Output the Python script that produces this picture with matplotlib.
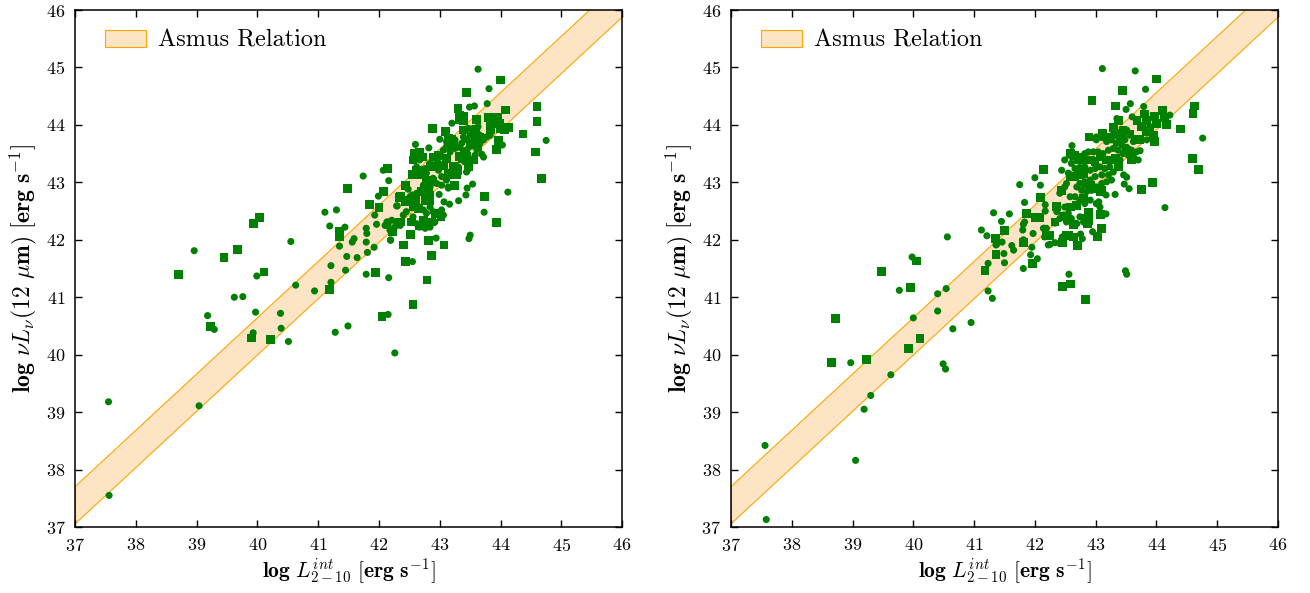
import numpy as np
import matplotlib
matplotlib.use("Agg")
import matplotlib.pyplot as plt

plt.rcParams['font.family'] = 'cmr10'
plt.rcParams['mathtext.fontset'] = 'cm'
plt.rcParams['axes.formatter.use_mathtext'] = True

# Asmus relation band: log L12 = slope*(log LX - 43) + intercept
asmus_slope = 0.98
asmus_low = 42.95
asmus_high = 43.60

# left panel
left_circ = np.array([
    (37.55, 39.18), (37.56, 37.55), (39.04, 39.11), (38.96, 41.81), (39.18, 40.68),
    (39.29, 40.44), (39.62, 41.00), (39.76, 41.01), (39.99, 41.37), (39.97, 40.74),
    (39.93, 40.38), (40.38, 40.72), (40.39, 40.46), (40.51, 40.23), (40.55, 41.97),
    (40.63, 41.21), (40.94, 41.11), (41.11, 42.48), (41.30, 42.52), (41.19, 42.24),
    (41.44, 42.22), (41.35, 41.89), (41.21, 41.55), (41.21, 41.26), (41.28, 40.39),
    (41.49, 40.50), (41.45, 41.47), (41.47, 41.71), (41.56, 41.96), (41.59, 42.02),
    (41.64, 41.69), (41.79, 42.20), (41.80, 42.11), (41.79, 41.96), (41.81, 41.78),
    (41.79, 41.40), (41.92, 41.87), (41.93, 42.43), (41.96, 42.27), (41.74, 43.11),
    (42.07, 43.21), (42.16, 43.03), (41.99, 42.76), (42.29, 42.59), (42.13, 42.31),
    (42.21, 42.34), (42.15, 42.25), (42.29, 42.27), (42.19, 42.00), (42.16, 41.34),
    (42.15, 40.70), (42.26, 40.03), (43.63, 44.97), (43.81, 44.63), (43.78, 44.37),
    (43.49, 44.31), (43.57, 44.33), (44.75, 43.73), (43.47, 43.94), (43.55, 43.94),
    (43.63, 43.97), (43.66, 43.82), (43.61, 43.88), (43.20, 44.03), (43.00, 43.75),
    (44.03, 43.65), (42.82, 43.60), (42.60, 43.66), (42.30, 42.59), (42.48, 42.88),
    (42.55, 42.78), (43.73, 42.48), (44.12, 42.83), (43.43, 42.78), (43.31, 42.68),
    (43.16, 42.62), (43.07, 42.66), (42.99, 42.79), (43.14, 42.90), (42.94, 42.03),
    (43.50, 42.08), (43.48, 42.02), (42.55, 41.62), (42.19, 41.99),
    (43.06, 43.56), (43.11, 43.62), (43.17, 43.53), (43.25, 43.59), (43.33, 43.61),
    (43.39, 43.55), (43.45, 43.57), (43.52, 43.63), (43.61, 43.57), (43.69, 43.49),
    (43.72, 43.44), (43.00, 43.44), (42.95, 43.39), (42.84, 43.33), (42.76, 43.24),
    (42.78, 43.16), (42.89, 43.07), (42.98, 43.21), (43.03, 43.10), (43.11, 43.04),
    (43.20, 43.21), (43.30, 43.27), (43.41, 43.36), (43.50, 43.39), (43.58, 43.47),
    (42.67, 43.39), (42.62, 43.27), (42.73, 42.95), (42.84, 42.92), (42.95, 42.98),
    (43.03, 42.95), (43.14, 42.92), (42.78, 42.75), (42.84, 42.57), (42.89, 42.49),
    (42.78, 42.46), (42.73, 42.52), (42.67, 42.54), (42.62, 42.81), (42.51, 42.75),
    (42.40, 42.43), (42.45, 42.49), (42.56, 42.40), (42.62, 42.28), (42.67, 42.22),
    (42.76, 42.20), (42.84, 42.22), (42.92, 42.31), (43.03, 42.52), (43.06, 42.43),
    (42.35, 42.25), (42.26, 42.22), (42.15, 42.31), (42.10, 42.25), (42.18, 42.17),
    (43.44, 43.18), (43.48, 43.24), (43.54, 42.97), (43.45, 42.90), (43.66, 43.68),
    (43.72, 43.74), (43.77, 43.79), (43.83, 43.82), (43.44, 43.74), (43.36, 43.68),
    (43.25, 43.74), (43.11, 43.71), (43.55, 43.88), (43.50, 43.82), (43.39, 43.79),
])
left_sq = np.array([
    (38.70, 41.40), (39.23, 40.49), (39.45, 41.69), (39.67, 41.83), (39.93, 42.28),
    (40.03, 42.39), (40.11, 41.44), (39.90, 40.29), (40.21, 40.26), (41.35, 42.14),
    (41.35, 42.05), (41.18, 41.13), (41.84, 42.62), (41.94, 41.43), (41.48, 42.89),
    (42.14, 43.25), (42.07, 42.84), (42.00, 42.56), (42.34, 42.74), (42.22, 42.15),
    (42.33, 42.31), (42.05, 40.66), (44.00, 44.78), (43.44, 44.57), (43.30, 44.29),
    (43.33, 44.17), (43.40, 44.15), (43.32, 44.10), (43.39, 44.07), (43.60, 44.10),
    (44.08, 44.26), (44.60, 44.32), (44.60, 44.06), (44.57, 43.53), (44.67, 43.07),
    (44.37, 43.84), (43.80, 44.13), (43.95, 44.13), (43.83, 44.03), (43.98, 44.03),
    (43.83, 43.91), (43.99, 43.94), (44.13, 43.95), (44.06, 43.91), (42.88, 43.94),
    (43.09, 43.88), (43.14, 43.76), (43.20, 43.74), (43.96, 43.73), (43.93, 43.57),
    (42.59, 43.50), (42.67, 43.53), (42.71, 43.44), (42.56, 43.39), (42.14, 43.24),
    (42.43, 42.94), (42.35, 42.75), (42.43, 42.66), (42.61, 42.70), (42.50, 42.68),
    (42.55, 43.14), (42.89, 43.44), (42.98, 43.47), (43.73, 42.76), (43.93, 42.30),
    (43.24, 42.95), (43.02, 42.40), (42.86, 42.31), (42.81, 41.99), (43.07, 41.91),
    (42.86, 41.73), (42.43, 41.62), (42.40, 41.91), (42.79, 41.30), (42.56, 40.87),
    (43.37, 43.42), (43.44, 43.45), (43.55, 43.39), (43.47, 43.27), (43.22, 43.27),
    (43.30, 43.21), (43.19, 43.13), (43.28, 43.13), (42.84, 43.27), (42.73, 43.21),
    (42.67, 43.13), (42.78, 43.04), (42.89, 43.01), (42.81, 42.92), (42.62, 43.21),
    (42.70, 42.84), (42.84, 42.78), (42.83, 42.69), (42.76, 42.69), (42.65, 42.54),
    (43.00, 42.46), (42.92, 42.46), (42.54, 42.31), (42.35, 42.31), (42.22, 42.15),
    (42.52, 42.09), (42.67, 42.25), (42.73, 42.34), (42.56, 42.57), (43.50, 43.68),
    (43.58, 43.74), (43.66, 43.79), (43.39, 43.91), (43.22, 43.65), (43.33, 43.45),
    (43.11, 43.42), (43.06, 43.30), (42.95, 43.27), (43.14, 43.16), (43.63, 43.62),
])

# right panel
right_circ = np.array([
    (37.56, 38.42), (37.58, 37.13), (39.05, 38.16), (39.19, 39.05), (39.30, 39.29),
    (39.63, 39.65), (38.97, 39.86), (39.77, 41.12), (39.98, 41.70), (40.00, 40.64),
    (39.94, 40.09), (40.49, 39.84), (40.53, 39.75), (40.65, 40.45), (40.40, 40.76),
    (40.40, 41.06), (40.54, 41.15), (40.95, 40.56), (41.23, 41.11), (41.30, 40.98),
    (41.23, 41.59), (41.36, 41.91), (41.46, 41.96), (41.49, 41.76), (41.50, 41.60),
    (41.62, 41.90), (41.65, 41.82), (41.95, 41.87), (41.93, 41.74), (41.81, 41.50),
    (42.04, 41.67), (40.56, 42.05), (41.12, 42.17), (41.21, 42.07), (41.32, 42.47),
    (41.58, 42.45), (41.45, 42.32), (41.37, 41.92), (41.81, 42.00), (41.80, 42.17),
    (41.81, 42.27), (41.83, 42.31), (41.83, 42.65), (41.75, 42.96), (42.00, 43.08),
    (42.09, 42.95), (41.97, 42.11), (42.17, 42.61), (42.17, 42.50), (42.14, 42.20),
    (42.19, 42.20), (42.16, 42.05), (42.22, 41.91), (43.11, 44.98), (43.65, 44.94),
    (43.82, 44.62), (43.57, 44.37), (43.50, 44.27), (43.79, 44.32), (43.60, 44.14),
    (43.35, 44.11), (44.22, 44.17), (44.76, 43.77), (44.14, 42.56), (43.55, 42.89),
    (43.47, 42.97), (43.46, 43.13), (43.51, 43.09), (43.32, 42.79), (43.17, 42.78),
    (43.05, 42.66), (43.07, 42.57), (43.17, 42.45), (42.52, 42.31), (42.33, 42.29),
    (42.15, 42.20), (42.25, 41.92), (42.33, 41.95), (42.41, 41.94), (42.45, 42.05),
    (42.75, 42.10), (42.78, 42.02), (42.95, 42.14), (42.56, 41.40), (43.49, 41.46),
    (43.51, 41.40), (42.61, 43.64),
    (43.01, 43.74), (43.10, 43.78), (43.18, 43.71), (43.26, 43.74), (43.34, 43.68),
    (43.43, 43.65), (43.51, 43.61), (43.59, 43.56), (43.67, 43.53), (43.73, 43.55),
    (43.70, 43.39), (43.62, 43.45), (43.54, 43.47), (43.45, 43.50), (43.37, 43.56),
    (43.29, 43.59), (43.21, 43.56), (43.12, 43.50), (43.04, 43.53), (42.96, 43.53),
    (42.88, 43.53), (42.82, 43.50), (42.74, 43.45), (42.69, 43.39), (42.60, 43.33),
    (42.66, 43.24), (42.74, 43.26), (42.82, 43.27), (42.91, 43.21), (42.99, 43.24),
    (43.07, 43.27), (43.15, 43.24), (43.23, 43.27), (43.29, 43.18), (43.21, 43.13),
    (43.10, 43.13), (42.99, 43.10), (42.91, 43.04), (42.82, 43.01), (42.74, 42.98),
    (42.69, 42.92), (42.77, 42.86), (42.85, 42.84), (42.93, 42.86), (43.01, 42.92),
    (43.10, 42.98), (43.18, 43.01), (43.26, 43.04), (42.58, 42.75), (42.66, 42.75),
    (42.74, 42.69), (42.82, 42.63), (42.91, 42.69), (43.01, 42.63), (42.63, 42.57),
    (42.55, 42.46), (42.47, 42.43), (42.41, 42.37), (42.36, 42.49), (42.74, 42.40),
    (42.80, 42.31), (42.69, 42.28), (42.60, 42.37), (42.52, 42.98), (42.49, 42.57),
    (43.84, 43.74), (43.81, 43.91), (43.89, 43.97), (43.51, 43.91), (43.56, 43.82),
    (43.43, 43.82), (43.32, 43.88), (43.26, 43.81), (43.15, 43.78), (43.01, 43.79),
    (43.62, 43.71), (43.48, 43.74), (43.37, 43.79), (42.60, 43.45), (42.49, 43.39),
    (42.44, 43.21), (42.55, 43.16), (42.60, 43.10), (42.49, 42.92), (42.41, 42.81),
    (43.32, 43.39), (43.40, 43.39),
])
right_sq = np.array([
    (38.65, 39.86), (38.72, 40.63), (39.23, 39.91), (39.48, 41.45), (39.95, 41.17),
    (40.05, 41.63), (40.11, 40.28), (39.92, 40.11), (41.18, 41.46), (41.36, 41.75),
    (41.81, 41.95), (41.96, 41.59), (41.35, 42.02), (41.50, 42.16), (41.86, 42.46),
    (42.14, 43.22), (42.09, 42.74), (42.00, 42.39), (42.08, 42.39), (42.19, 42.08),
    (44.00, 44.80), (43.44, 44.60), (42.94, 44.43), (43.32, 44.33), (43.80, 44.19),
    (43.68, 44.07), (43.38, 44.07), (43.29, 43.96), (43.97, 44.15), (44.10, 44.25),
    (44.13, 44.13), (44.00, 44.03), (44.16, 44.01), (44.62, 44.33), (44.60, 44.20),
    (44.39, 43.93), (44.59, 43.42), (44.69, 43.22), (43.93, 43.00), (43.75, 42.88),
    (43.09, 42.86), (43.08, 42.44), (42.88, 42.48), (42.88, 42.34), (42.63, 42.27),
    (42.35, 42.59), (42.56, 42.08), (42.45, 41.95), (42.24, 42.08), (42.70, 41.90),
    (43.03, 42.06), (43.09, 42.19), (42.58, 41.23), (42.45, 41.19), (42.83, 40.96),
    (42.89, 43.79),
    (43.11, 43.86), (43.23, 43.79), (43.32, 43.85), (43.45, 43.91), (43.56, 43.84),
    (43.65, 43.74), (43.40, 43.74), (43.51, 43.56), (43.59, 43.39), (43.33, 43.42),
    (43.37, 43.28), (43.25, 43.39), (43.18, 43.39), (43.08, 43.45), (42.99, 43.36),
    (42.91, 43.39), (42.82, 43.39), (42.74, 43.13), (42.80, 43.16), (42.58, 43.50),
    (42.65, 43.47), (42.73, 43.39), (42.58, 43.10), (42.66, 43.10), (42.85, 42.98),
    (42.91, 42.95), (42.98, 42.89), (43.07, 42.84), (42.80, 42.72), (42.69, 42.60),
    (42.58, 42.57), (42.44, 42.86), (42.36, 42.57), (42.33, 42.31), (42.47, 42.40),
    (42.85, 42.37), (42.86, 42.28), (42.52, 42.08), (42.63, 42.05), (43.84, 44.08),
    (43.88, 43.91), (43.95, 43.82), (43.97, 43.71), (43.73, 43.74), (43.76, 43.97),
    (43.83, 43.88),
])

xlab = r'$\mathbf{log}\ L_{2-10}^{int}\ \mathbf{[erg\ s}^{-1}\mathbf{]}$'
ylab = r'$\mathbf{log}\ \nu L_\nu\mathbf{(12}\ \mu\mathbf{m)\ [erg\ s}^{-1}\mathbf{]}$'

fig = plt.figure(figsize=(13.1, 5.93), dpi=100)
ax1 = fig.add_axes([0.0573, 0.1113, 0.4176, 0.8718])
ax2 = fig.add_axes([0.558, 0.1113, 0.4176, 0.8718])

xb = np.linspace(37, 46, 50)
for ax, circ, sq in [(ax1, left_circ, left_sq), (ax2, right_circ, right_sq)]:
    ax.fill_between(xb, asmus_low + asmus_slope * (xb - 43),
                    asmus_high + asmus_slope * (xb - 43),
                    facecolor='#fde4c4', edgecolor='orange', linewidth=0.8,
                    label='Asmus Relation', zorder=1)
    ax.scatter(circ[:, 0], circ[:, 1], s=26, marker='o', color='green',
               edgecolors='none', zorder=3)
    ax.scatter(sq[:, 0], sq[:, 1], s=40, marker='s', color='green',
               edgecolors='none', zorder=3)
    ax.set_xlim(37, 46)
    ax.set_ylim(37, 46)
    ax.set_xticks(range(37, 47))
    ax.set_yticks(range(37, 47))
    ax.tick_params(direction='in', top=True, right=True, length=5,
                   width=1, labelsize=13, pad=7)
    for sp in ax.spines.values():
        sp.set_linewidth(1.1)
    ax.set_xlabel(xlab, fontsize=15.5, labelpad=2)
    ax.set_ylabel(ylab, fontsize=17, labelpad=5)
    ax.legend(loc='upper left', bbox_to_anchor=(0.054, 0.962), frameon=False,
              fontsize=17.5, handlelength=1.7, handletextpad=0.5,
              borderpad=0, borderaxespad=0)

fig.savefig('out.png', dpi=100)
